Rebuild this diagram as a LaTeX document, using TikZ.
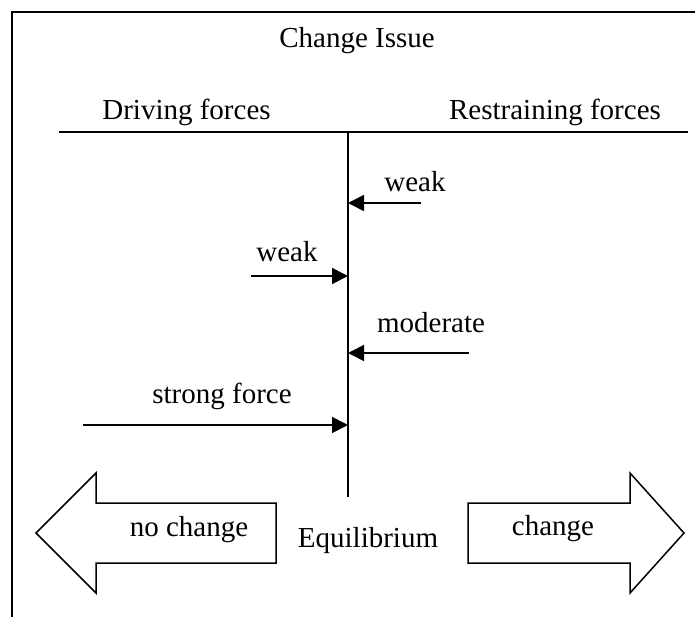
\documentclass[tikz,border=0pt]{standalone}
\usepackage{fontspec}
\setmainfont{Liberation Serif}
\usetikzlibrary{arrows.meta}
\tikzset{
  lbl/.style={inner sep=0pt, anchor=base, font=\fontsize{14.5}{17}\selectfont},
  frameline/.style={line width=1pt},
  axisline/.style={line width=0.85pt},
  forcearrow/.style={line width=0.85pt, -{Triangle[length=8pt,width=8pt]}},
  bigarrow/.style={line width=0.75pt, line join=miter, fill=white},
}
\begin{document}
\begin{tikzpicture}[x=0.5pt,y=-0.5pt]
\useasboundingbox (0,0) rectangle (695,616);
% frame (cropped at right and bottom)
\coordinate (fTL) at (12,12);
\coordinate (fTR) at (697,12);
\coordinate (fBL) at (12,618);
\draw[frameline] (fTR) -- (fTL) -- (fBL);
% title and headings
\node[lbl] (title) at (357,47) {Change Issue};
\node[lbl] (driving) at (186.5,119) {Driving forces};
\node[lbl] (restraining) at (555,119) {Restraining forces};
% axes
\coordinate (hL) at (59,132);
\coordinate (hR) at (688,132);
\coordinate (vT) at (348,132);
\coordinate (vB) at (348,497);
\draw[axisline] (hL) -- (hR);
\draw[axisline] (vT) -- (vB);
% forces
\coordinate (r1s) at (421,203);
\coordinate (r1e) at (348,203);
\coordinate (d1s) at (251,276);
\coordinate (d1e) at (348,276);
\coordinate (r2s) at (469,353);
\coordinate (r2e) at (348,353);
\coordinate (d2s) at (83,425);
\coordinate (d2e) at (348,425);
\draw[forcearrow] (r1s) -- (r1e);
\draw[forcearrow] (d1s) -- (d1e);
\draw[forcearrow] (r2s) -- (r2e);
\draw[forcearrow] (d2s) -- (d2e);
\node[lbl] (lr1) at (415,191) {weak};
\node[lbl] (ld1) at (287,261) {weak};
\node[lbl] (lr2) at (431,332) {moderate};
\node[lbl] (ld2) at (222,403) {strong force};
% big arrows
\draw[bigarrow] (36,533) -- (96,473) -- (96,503) -- (276,503) -- (276,563) -- (96,563) -- (96,593) -- cycle;
\draw[bigarrow] (468,503) -- (630,503) -- (630,473) -- (684,533) -- (630,593) -- (630,563) -- (468,563) -- cycle;
\node[lbl] (nochange) at (189,536) {no change};
\node[lbl] (equil) at (368,547) {Equilibrium};
\node[lbl] (change) at (553,535) {change};
\end{tikzpicture}
\end{document}
